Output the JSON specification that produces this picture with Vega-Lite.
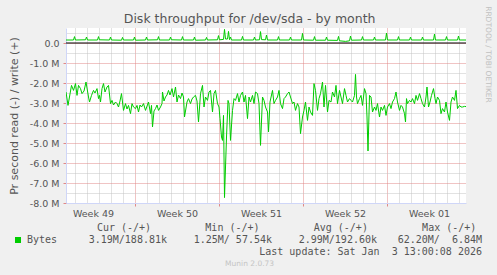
{
  "$schema": "https://vega.github.io/schema/vega-lite/v6.json",
  "background": "#f0f0f0",
  "padding": {"left": 8, "top": 5, "right": 6, "bottom": 7},
  "title": {"text": "Munin 2.0.73", "orient": "bottom", "anchor": "middle", "frame": "bounds", "font": "DejaVu Sans", "fontSize": 7.5, "fontWeight": "normal", "color": "#c4c4c4", "offset": 3},
  "config": {"font": "DejaVu Sans", "view": {"stroke": null}},
  "bounds": "flush",
  "spacing": 19.4,
  "datasets": {
    "read": [
      {"t": "2025-12-02T06:00Z", "v": -2.45}, {"t": "2025-12-02T10:00Z", "v": -3.12}, {"t": "2025-12-02T17:00Z", "v": -2.12}, {"t": "2025-12-02T21:00Z", "v": -2.37},
      {"t": "2025-12-03T01:00Z", "v": -2.03}, {"t": "2025-12-03T04:00Z", "v": -2.62}, {"t": "2025-12-03T07:00Z", "v": -2.12}, {"t": "2025-12-03T11:00Z", "v": -2.28}, {"t": "2025-12-03T14:00Z", "v": -2.53}, {"t": "2025-12-03T18:00Z", "v": -2.4}, {"t": "2025-12-03T22:00Z", "v": -1.95},
      {"t": "2025-12-04T03:00Z", "v": -2.7}, {"t": "2025-12-04T05:00Z", "v": -2.95}, {"t": "2025-12-04T09:00Z", "v": -2.62}, {"t": "2025-12-04T13:00Z", "v": -2.37}, {"t": "2025-12-04T16:00Z", "v": -2.5}, {"t": "2025-12-04T20:00Z", "v": -2.28}, {"t": "2025-12-04T23:00Z", "v": -2.78},
      {"t": "2025-12-05T01:00Z", "v": -2.62}, {"t": "2025-12-05T03:00Z", "v": -2.95}, {"t": "2025-12-05T06:00Z", "v": -2.28}, {"t": "2025-12-05T09:00Z", "v": -2.03}, {"t": "2025-12-05T12:00Z", "v": -2.45}, {"t": "2025-12-05T16:00Z", "v": -2.2}, {"t": "2025-12-05T19:00Z", "v": -2.12}, {"t": "2025-12-05T23:00Z", "v": -3.03},
      {"t": "2025-12-06T02:00Z", "v": -2.87}, {"t": "2025-12-06T05:00Z", "v": -3.1}, {"t": "2025-12-06T09:00Z", "v": -2.95}, {"t": "2025-12-06T12:00Z", "v": -3.03}, {"t": "2025-12-06T15:00Z", "v": -3.2}, {"t": "2025-12-06T18:00Z", "v": -2.9}, {"t": "2025-12-06T21:00Z", "v": -2.53},
      {"t": "2025-12-07T01:00Z", "v": -3.37}, {"t": "2025-12-07T05:00Z", "v": -3.03}, {"t": "2025-12-07T08:00Z", "v": -3.3}, {"t": "2025-12-07T11:00Z", "v": -3.12}, {"t": "2025-12-07T15:00Z", "v": -3.53}, {"t": "2025-12-07T18:00Z", "v": -3.03}, {"t": "2025-12-07T21:00Z", "v": -3.2},
      {"t": "2025-12-08T01:00Z", "v": -3.28}, {"t": "2025-12-08T04:00Z", "v": -3.12}, {"t": "2025-12-08T07:00Z", "v": -3.45}, {"t": "2025-12-08T10:00Z", "v": -3.1}, {"t": "2025-12-08T13:00Z", "v": -3.2}, {"t": "2025-12-08T17:00Z", "v": -3.03}, {"t": "2025-12-08T21:00Z", "v": -3.37},
      {"t": "2025-12-09T03:00Z", "v": -2.95}, {"t": "2025-12-09T07:00Z", "v": -3.53}, {"t": "2025-12-09T09:00Z", "v": -3.12}, {"t": "2025-12-09T11:00Z", "v": -4.2}, {"t": "2025-12-09T14:00Z", "v": -3.4}, {"t": "2025-12-09T17:00Z", "v": -3.28}, {"t": "2025-12-09T20:00Z", "v": -3.1}, {"t": "2025-12-09T23:00Z", "v": -3.37},
      {"t": "2025-12-10T03:00Z", "v": -3.2}, {"t": "2025-12-10T06:00Z", "v": -3.03}, {"t": "2025-12-10T07:00Z", "v": -2.45}, {"t": "2025-12-10T10:00Z", "v": -2.9}, {"t": "2025-12-10T13:00Z", "v": -2.7}, {"t": "2025-12-10T16:00Z", "v": -2.6}, {"t": "2025-12-10T19:00Z", "v": -2.37}, {"t": "2025-12-10T22:00Z", "v": -2.6},
      {"t": "2025-12-11T02:00Z", "v": -2.28}, {"t": "2025-12-11T05:00Z", "v": -2.7}, {"t": "2025-12-11T09:00Z", "v": -2.2}, {"t": "2025-12-11T12:00Z", "v": -2.95}, {"t": "2025-12-11T15:00Z", "v": -2.6}, {"t": "2025-12-11T19:00Z", "v": -2.78}, {"t": "2025-12-11T22:00Z", "v": -2.5},
      {"t": "2025-12-12T01:00Z", "v": -2.7}, {"t": "2025-12-12T03:00Z", "v": -3.7}, {"t": "2025-12-12T08:00Z", "v": -2.95}, {"t": "2025-12-12T11:00Z", "v": -2.78}, {"t": "2025-12-12T15:00Z", "v": -3.03}, {"t": "2025-12-12T18:00Z", "v": -2.8}, {"t": "2025-12-12T21:00Z", "v": -2.7},
      {"t": "2025-12-13T01:00Z", "v": -2.62}, {"t": "2025-12-13T04:00Z", "v": -2.9}, {"t": "2025-12-13T07:00Z", "v": -3.95}, {"t": "2025-12-13T11:00Z", "v": -2.53}, {"t": "2025-12-13T15:00Z", "v": -2.12}, {"t": "2025-12-13T18:00Z", "v": -3.2}, {"t": "2025-12-13T21:00Z", "v": -2.7},
      {"t": "2025-12-14T01:00Z", "v": -2.87}, {"t": "2025-12-14T04:00Z", "v": -2.45}, {"t": "2025-12-14T07:00Z", "v": -2.37}, {"t": "2025-12-14T11:00Z", "v": -3.45}, {"t": "2025-12-14T14:00Z", "v": -2.53}, {"t": "2025-12-14T17:00Z", "v": -2.37}, {"t": "2025-12-14T21:00Z", "v": -3.03},
      {"t": "2025-12-15T00:00Z", "v": -3.2}, {"t": "2025-12-15T02:00Z", "v": -3.78}, {"t": "2025-12-15T05:00Z", "v": -4.7}, {"t": "2025-12-15T07:00Z", "v": -4.87}, {"t": "2025-12-15T09:00Z", "v": -3.62}, {"t": "2025-12-15T11:00Z", "v": -7.73}, {"t": "2025-12-15T15:00Z", "v": -4.7}, {"t": "2025-12-15T18:00Z", "v": -2.87}, {"t": "2025-12-15T20:00Z", "v": -3.03}, {"t": "2025-12-15T23:00Z", "v": -4.87},
      {"t": "2025-12-16T03:00Z", "v": -3.37}, {"t": "2025-12-16T06:00Z", "v": -2.78}, {"t": "2025-12-16T09:00Z", "v": -2.87}, {"t": "2025-12-16T13:00Z", "v": -2.53}, {"t": "2025-12-16T16:00Z", "v": -2.95}, {"t": "2025-12-16T19:00Z", "v": -2.62}, {"t": "2025-12-16T23:00Z", "v": -2.45},
      {"t": "2025-12-17T02:00Z", "v": -2.95}, {"t": "2025-12-17T05:00Z", "v": -2.62}, {"t": "2025-12-17T09:00Z", "v": -3.78}, {"t": "2025-12-17T12:00Z", "v": -2.7}, {"t": "2025-12-17T15:00Z", "v": -2.95}, {"t": "2025-12-17T19:00Z", "v": -2.62}, {"t": "2025-12-17T22:00Z", "v": -3.03},
      {"t": "2025-12-18T01:00Z", "v": -2.45}, {"t": "2025-12-18T05:00Z", "v": -2.53}, {"t": "2025-12-18T08:00Z", "v": -3.03}, {"t": "2025-12-18T11:00Z", "v": -5.12}, {"t": "2025-12-18T15:00Z", "v": -2.7}, {"t": "2025-12-18T18:00Z", "v": -2.87}, {"t": "2025-12-18T21:00Z", "v": -3.2},
      {"t": "2025-12-19T01:00Z", "v": -3.45}, {"t": "2025-12-19T03:00Z", "v": -4.45}, {"t": "2025-12-19T06:00Z", "v": -2.95}, {"t": "2025-12-19T11:00Z", "v": -2.37}, {"t": "2025-12-19T14:00Z", "v": -3.03}, {"t": "2025-12-19T17:00Z", "v": -2.87}, {"t": "2025-12-19T21:00Z", "v": -2.7},
      {"t": "2025-12-20T00:00Z", "v": -2.37}, {"t": "2025-12-20T03:00Z", "v": -3.03}, {"t": "2025-12-20T07:00Z", "v": -3.28}, {"t": "2025-12-20T10:00Z", "v": -2.78}, {"t": "2025-12-20T13:00Z", "v": -2.7}, {"t": "2025-12-20T17:00Z", "v": -2.53}, {"t": "2025-12-20T20:00Z", "v": -2.45}, {"t": "2025-12-20T23:00Z", "v": -2.7},
      {"t": "2025-12-21T03:00Z", "v": -3.03}, {"t": "2025-12-21T06:00Z", "v": -2.95}, {"t": "2025-12-21T09:00Z", "v": -3.37}, {"t": "2025-12-21T13:00Z", "v": -3.03}, {"t": "2025-12-21T16:00Z", "v": -3.2}, {"t": "2025-12-21T19:00Z", "v": -4.53}, {"t": "2025-12-21T23:00Z", "v": -3.7},
      {"t": "2025-12-22T02:00Z", "v": -3.37}, {"t": "2025-12-22T05:00Z", "v": -2.95}, {"t": "2025-12-22T09:00Z", "v": -3.87}, {"t": "2025-12-22T12:00Z", "v": -3.2}, {"t": "2025-12-22T15:00Z", "v": -3.45}, {"t": "2025-12-22T19:00Z", "v": -3.62}, {"t": "2025-12-22T22:00Z", "v": -2.03},
      {"t": "2025-12-23T01:00Z", "v": -2.37}, {"t": "2025-12-23T05:00Z", "v": -3.37}, {"t": "2025-12-23T08:00Z", "v": -2.78}, {"t": "2025-12-23T11:00Z", "v": -2.53}, {"t": "2025-12-23T15:00Z", "v": -1.95}, {"t": "2025-12-23T18:00Z", "v": -3.2}, {"t": "2025-12-23T21:00Z", "v": -2.12},
      {"t": "2025-12-24T01:00Z", "v": -3.45}, {"t": "2025-12-24T04:00Z", "v": -2.87}, {"t": "2025-12-24T08:00Z", "v": -2.95}, {"t": "2025-12-24T11:00Z", "v": -2.45}, {"t": "2025-12-24T15:00Z", "v": -2.7}, {"t": "2025-12-24T18:00Z", "v": -2.12}, {"t": "2025-12-24T21:00Z", "v": -3.03},
      {"t": "2025-12-25T01:00Z", "v": -2.37}, {"t": "2025-12-25T04:00Z", "v": -2.7}, {"t": "2025-12-25T07:00Z", "v": -3.03}, {"t": "2025-12-25T11:00Z", "v": -2.28}, {"t": "2025-12-25T14:00Z", "v": -2.62}, {"t": "2025-12-25T17:00Z", "v": -2.95}, {"t": "2025-12-25T21:00Z", "v": -2.78},
      {"t": "2025-12-26T00:00Z", "v": -2.87}, {"t": "2025-12-26T03:00Z", "v": -2.95}, {"t": "2025-12-26T07:00Z", "v": -2.62}, {"t": "2025-12-26T09:00Z", "v": -1.57}, {"t": "2025-12-26T11:00Z", "v": -2.7}, {"t": "2025-12-26T13:00Z", "v": -3.03}, {"t": "2025-12-26T17:00Z", "v": -2.78}, {"t": "2025-12-26T20:00Z", "v": -2.62}, {"t": "2025-12-26T23:00Z", "v": -3.12},
      {"t": "2025-12-27T03:00Z", "v": -2.28}, {"t": "2025-12-27T06:00Z", "v": -2.53}, {"t": "2025-12-27T08:00Z", "v": -3.7}, {"t": "2025-12-27T10:00Z", "v": -5.4}, {"t": "2025-12-27T13:00Z", "v": -2.62}, {"t": "2025-12-27T16:00Z", "v": -2.7}, {"t": "2025-12-27T19:00Z", "v": -3.45}, {"t": "2025-12-27T23:00Z", "v": -3.2},
      {"t": "2025-12-28T02:00Z", "v": -3.37}, {"t": "2025-12-28T05:00Z", "v": -3.03}, {"t": "2025-12-28T09:00Z", "v": -3.7}, {"t": "2025-12-28T12:00Z", "v": -3.2}, {"t": "2025-12-28T15:00Z", "v": -3.37}, {"t": "2025-12-28T19:00Z", "v": -3.12}, {"t": "2025-12-28T22:00Z", "v": -3.62},
      {"t": "2025-12-29T01:00Z", "v": -3.2}, {"t": "2025-12-29T05:00Z", "v": -3.03}, {"t": "2025-12-29T08:00Z", "v": -3.28}, {"t": "2025-12-29T11:00Z", "v": -2.95}, {"t": "2025-12-29T15:00Z", "v": -2.78}, {"t": "2025-12-29T18:00Z", "v": -2.45}, {"t": "2025-12-29T21:00Z", "v": -2.95},
      {"t": "2025-12-30T01:00Z", "v": -3.37}, {"t": "2025-12-30T04:00Z", "v": -3.12}, {"t": "2025-12-30T07:00Z", "v": -3.2}, {"t": "2025-12-30T11:00Z", "v": -3.53}, {"t": "2025-12-30T13:00Z", "v": -3.95}, {"t": "2025-12-30T15:00Z", "v": -2.78}, {"t": "2025-12-30T17:00Z", "v": -3.03}, {"t": "2025-12-30T21:00Z", "v": -2.87},
      {"t": "2025-12-31T00:00Z", "v": -2.95}, {"t": "2025-12-31T03:00Z", "v": -2.78}, {"t": "2025-12-31T07:00Z", "v": -3.03}, {"t": "2025-12-31T10:00Z", "v": -2.62}, {"t": "2025-12-31T13:00Z", "v": -2.87}, {"t": "2025-12-31T17:00Z", "v": -2.53}, {"t": "2025-12-31T20:00Z", "v": -2.78}, {"t": "2025-12-31T23:00Z", "v": -3.03},
      {"t": "2026-01-01T03:00Z", "v": -3.2}, {"t": "2026-01-01T06:00Z", "v": -2.7}, {"t": "2026-01-01T08:00Z", "v": -2.2}, {"t": "2026-01-01T11:00Z", "v": -3.2}, {"t": "2026-01-01T14:00Z", "v": -2.95}, {"t": "2026-01-01T17:00Z", "v": -2.62}, {"t": "2026-01-01T21:00Z", "v": -2.28},
      {"t": "2026-01-02T00:00Z", "v": -2.78}, {"t": "2026-01-02T02:00Z", "v": -3.03}, {"t": "2026-01-02T05:00Z", "v": -2.7}, {"t": "2026-01-02T09:00Z", "v": -2.87}, {"t": "2026-01-02T12:00Z", "v": -3.53}, {"t": "2026-01-02T15:00Z", "v": -3.28}, {"t": "2026-01-02T19:00Z", "v": -3.45}, {"t": "2026-01-02T22:00Z", "v": -2.95},
      {"t": "2026-01-03T01:00Z", "v": -3.45}, {"t": "2026-01-03T05:00Z", "v": -3.87}, {"t": "2026-01-03T08:00Z", "v": -2.95}, {"t": "2026-01-03T11:00Z", "v": -2.7}, {"t": "2026-01-03T15:00Z", "v": -2.87}, {"t": "2026-01-03T18:00Z", "v": -2.37}, {"t": "2026-01-03T21:00Z", "v": -3.28},
      {"t": "2026-01-04T01:00Z", "v": -3.12}, {"t": "2026-01-04T04:00Z", "v": -3.2}, {"t": "2026-01-04T07:00Z", "v": -3.2}, {"t": "2026-01-04T11:00Z", "v": -3.17}, {"t": "2026-01-04T14:00Z", "v": -3.18}
    ],
    "write": [
      {"t": "2025-12-02T06:00Z", "v": 0.15}, {"t": "2025-12-02T21:00Z", "v": 0.15}, {"t": "2025-12-02T23:00Z", "v": 0.32},
      {"t": "2025-12-03T01:00Z", "v": 0.15}, {"t": "2025-12-03T21:00Z", "v": 0.16}, {"t": "2025-12-03T23:00Z", "v": 0.3},
      {"t": "2025-12-04T01:00Z", "v": 0.15}, {"t": "2025-12-04T21:00Z", "v": 0.15}, {"t": "2025-12-04T23:00Z", "v": 0.32},
      {"t": "2025-12-05T01:00Z", "v": 0.16}, {"t": "2025-12-05T21:00Z", "v": 0.15}, {"t": "2025-12-05T23:00Z", "v": 0.3},
      {"t": "2025-12-06T01:00Z", "v": 0.15}, {"t": "2025-12-06T21:00Z", "v": 0.14}, {"t": "2025-12-06T23:00Z", "v": 0.28},
      {"t": "2025-12-07T01:00Z", "v": 0.15}, {"t": "2025-12-07T21:00Z", "v": 0.15}, {"t": "2025-12-07T23:00Z", "v": 0.3},
      {"t": "2025-12-08T01:00Z", "v": 0.14}, {"t": "2025-12-08T21:00Z", "v": 0.15}, {"t": "2025-12-08T23:00Z", "v": 0.3},
      {"t": "2025-12-09T01:00Z", "v": 0.15}, {"t": "2025-12-09T21:00Z", "v": 0.16}, {"t": "2025-12-09T23:00Z", "v": 0.32},
      {"t": "2025-12-10T01:00Z", "v": 0.15}, {"t": "2025-12-10T21:00Z", "v": 0.15}, {"t": "2025-12-10T23:00Z", "v": 0.3},
      {"t": "2025-12-11T01:00Z", "v": 0.16}, {"t": "2025-12-11T21:00Z", "v": 0.15}, {"t": "2025-12-11T23:00Z", "v": 0.32},
      {"t": "2025-12-12T01:00Z", "v": 0.15}, {"t": "2025-12-12T21:00Z", "v": 0.15}, {"t": "2025-12-12T23:00Z", "v": 0.3},
      {"t": "2025-12-13T01:00Z", "v": 0.14}, {"t": "2025-12-13T21:00Z", "v": 0.15}, {"t": "2025-12-13T23:00Z", "v": 0.28},
      {"t": "2025-12-14T01:00Z", "v": 0.15}, {"t": "2025-12-14T21:00Z", "v": 0.16}, {"t": "2025-12-14T23:00Z", "v": 0.37},
      {"t": "2025-12-15T01:00Z", "v": 0.16}, {"t": "2025-12-15T09:00Z", "v": 0.18}, {"t": "2025-12-15T11:00Z", "v": 0.68}, {"t": "2025-12-15T13:00Z", "v": 0.2}, {"t": "2025-12-15T17:00Z", "v": 0.2}, {"t": "2025-12-15T19:00Z", "v": 0.58}, {"t": "2025-12-15T21:00Z", "v": 0.17}, {"t": "2025-12-15T23:00Z", "v": 0.3},
      {"t": "2025-12-16T01:00Z", "v": 0.15}, {"t": "2025-12-16T21:00Z", "v": 0.15}, {"t": "2025-12-16T23:00Z", "v": 0.33},
      {"t": "2025-12-17T01:00Z", "v": 0.15}, {"t": "2025-12-17T21:00Z", "v": 0.15}, {"t": "2025-12-17T23:00Z", "v": 0.3},
      {"t": "2025-12-18T01:00Z", "v": 0.15}, {"t": "2025-12-18T09:00Z", "v": 0.16}, {"t": "2025-12-18T11:00Z", "v": 0.57}, {"t": "2025-12-18T13:00Z", "v": 0.17}, {"t": "2025-12-18T21:00Z", "v": 0.16}, {"t": "2025-12-18T23:00Z", "v": 0.4},
      {"t": "2025-12-19T01:00Z", "v": 0.15}, {"t": "2025-12-19T21:00Z", "v": 0.15}, {"t": "2025-12-19T23:00Z", "v": 0.32},
      {"t": "2025-12-20T01:00Z", "v": 0.15}, {"t": "2025-12-20T21:00Z", "v": 0.15}, {"t": "2025-12-20T23:00Z", "v": 0.3},
      {"t": "2025-12-21T01:00Z", "v": 0.15}, {"t": "2025-12-21T21:00Z", "v": 0.15}, {"t": "2025-12-21T23:00Z", "v": 0.48},
      {"t": "2025-12-22T01:00Z", "v": 0.15}, {"t": "2025-12-22T21:00Z", "v": 0.14}, {"t": "2025-12-22T23:00Z", "v": 0.32},
      {"t": "2025-12-23T01:00Z", "v": 0.14}, {"t": "2025-12-23T21:00Z", "v": 0.14}, {"t": "2025-12-23T23:00Z", "v": 0.3},
      {"t": "2025-12-24T01:00Z", "v": 0.14}, {"t": "2025-12-24T21:00Z", "v": 0.13}, {"t": "2025-12-24T23:00Z", "v": 0.33},
      {"t": "2025-12-25T01:00Z", "v": 0.11}, {"t": "2025-12-25T13:00Z", "v": 0.08}, {"t": "2025-12-25T21:00Z", "v": 0.11}, {"t": "2025-12-25T23:00Z", "v": 0.35},
      {"t": "2025-12-26T01:00Z", "v": 0.14}, {"t": "2025-12-26T21:00Z", "v": 0.15}, {"t": "2025-12-26T23:00Z", "v": 0.32},
      {"t": "2025-12-27T01:00Z", "v": 0.15}, {"t": "2025-12-27T21:00Z", "v": 0.15}, {"t": "2025-12-27T23:00Z", "v": 0.3},
      {"t": "2025-12-28T01:00Z", "v": 0.15}, {"t": "2025-12-28T21:00Z", "v": 0.15}, {"t": "2025-12-28T23:00Z", "v": 0.5},
      {"t": "2025-12-29T01:00Z", "v": 0.15}, {"t": "2025-12-29T21:00Z", "v": 0.15}, {"t": "2025-12-29T23:00Z", "v": 0.32},
      {"t": "2025-12-30T01:00Z", "v": 0.15}, {"t": "2025-12-30T21:00Z", "v": 0.15}, {"t": "2025-12-30T23:00Z", "v": 0.3},
      {"t": "2025-12-31T01:00Z", "v": 0.15}, {"t": "2025-12-31T21:00Z", "v": 0.15}, {"t": "2025-12-31T23:00Z", "v": 0.3},
      {"t": "2026-01-01T01:00Z", "v": 0.15}, {"t": "2026-01-01T21:00Z", "v": 0.15}, {"t": "2026-01-01T23:00Z", "v": 0.45},
      {"t": "2026-01-02T01:00Z", "v": 0.15}, {"t": "2026-01-02T21:00Z", "v": 0.15}, {"t": "2026-01-02T23:00Z", "v": 0.32},
      {"t": "2026-01-03T01:00Z", "v": 0.15}, {"t": "2026-01-03T21:00Z", "v": 0.15}, {"t": "2026-01-03T23:00Z", "v": 0.35},
      {"t": "2026-01-04T01:00Z", "v": 0.15}, {"t": "2026-01-04T14:00Z", "v": 0.15}
    ],
    "zero": [{"ref": 0}],
    "table": [
      {"col": "Cur", "line": "head", "text": "Cur (-/+)"},
      {"col": "Min", "line": "head", "text": "Min (-/+)"},
      {"col": "Avg", "line": "head", "text": "Avg (-/+)"},
      {"col": "Max", "line": "head", "text": "Max (-/+)"},
      {"col": "Cur", "line": "val", "text": "3.19M/188.81k"},
      {"col": "Min", "line": "val", "text": "1.25M/\u00a057.54k"},
      {"col": "Avg", "line": "val", "text": "2.99M/192.60k"},
      {"col": "Max", "line": "val", "text": "62.20M/\u00a0\u00a06.84M"}
    ]
  },
  "vconcat": [
    {
      "width": 400,
      "height": 175,
      "view": {"fill": "#ffffff", "stroke": null},
      "title": {"text": "Disk throughput for /dev/sda - by month", "frame": "bounds", "anchor": "middle", "fontSize": 12.5, "fontWeight": "normal", "color": "#555555", "offset": -20},
      "layer": [
        {
          "data": {"name": "read"},
          "mark": {"type": "line", "strokeWidth": 1, "clip": true},
          "encoding": {
            "x": {
              "field": "t", "type": "temporal",
              "scale": {"type": "utc", "nice": false, "domain": [{"year": 2025, "month": 12, "date": 2, "hours": 6, "utc": true}, {"year": 2026, "month": 1, "date": 4, "hours": 14, "utc": true}]},
              "axis": {
                "orient": "bottom", "title": null, "labels": false,
                "values": [
                  {"year": 2025, "month": 12, "date": 3, "utc": true}, {"year": 2025, "month": 12, "date": 4, "utc": true}, {"year": 2025, "month": 12, "date": 5, "utc": true}, {"year": 2025, "month": 12, "date": 6, "utc": true}, {"year": 2025, "month": 12, "date": 7, "utc": true}, {"year": 2025, "month": 12, "date": 8, "utc": true}, {"year": 2025, "month": 12, "date": 9, "utc": true}, {"year": 2025, "month": 12, "date": 10, "utc": true}, {"year": 2025, "month": 12, "date": 11, "utc": true}, {"year": 2025, "month": 12, "date": 12, "utc": true}, {"year": 2025, "month": 12, "date": 13, "utc": true}, {"year": 2025, "month": 12, "date": 14, "utc": true}, {"year": 2025, "month": 12, "date": 15, "utc": true}, {"year": 2025, "month": 12, "date": 16, "utc": true}, {"year": 2025, "month": 12, "date": 17, "utc": true}, {"year": 2025, "month": 12, "date": 18, "utc": true}, {"year": 2025, "month": 12, "date": 19, "utc": true}, {"year": 2025, "month": 12, "date": 20, "utc": true}, {"year": 2025, "month": 12, "date": 21, "utc": true}, {"year": 2025, "month": 12, "date": 22, "utc": true}, {"year": 2025, "month": 12, "date": 23, "utc": true}, {"year": 2025, "month": 12, "date": 24, "utc": true}, {"year": 2025, "month": 12, "date": 25, "utc": true}, {"year": 2025, "month": 12, "date": 26, "utc": true}, {"year": 2025, "month": 12, "date": 27, "utc": true}, {"year": 2025, "month": 12, "date": 28, "utc": true}, {"year": 2025, "month": 12, "date": 29, "utc": true}, {"year": 2025, "month": 12, "date": 30, "utc": true}, {"year": 2025, "month": 12, "date": 31, "utc": true}, {"year": 2026, "month": 1, "date": 1, "utc": true}, {"year": 2026, "month": 1, "date": 2, "utc": true}, {"year": 2026, "month": 1, "date": 3, "utc": true}, {"year": 2026, "month": 1, "date": 4, "utc": true}
                ],
                "grid": true, "gridDash": [1, 1], "gridWidth": 1,
                "gridColor": {"condition": {"test": "utcday(datum.value) === 1", "value": "#e08888"}, "value": "#c4c4c4"},
                "ticks": true, "tickSize": 3,
                "tickColor": {"condition": {"test": "utcday(datum.value) === 1", "value": "#e08888"}, "value": "transparent"},
                "domain": true, "domainColor": "#cfd6f8", "domainWidth": 1
              }
            },
            "y": {
              "field": "v", "type": "quantitative",
              "scale": {"domain": [-8, 0.75], "nice": false, "zero": false},
              "axis": {
                "values": [-8, -7.5, -7, -6.5, -6, -5.5, -5, -4.5, -4, -3.5, -3, -2.5, -2, -1.5, -1, -0.5, 0, 0.5],
                "labelExpr": "datum.value % 1 !== 0 ? '' : (datum.value === 0 ? '0.0\u00a0\u00a0' : '-' + format(-datum.value, '.1f') + ' M')",
                "title": "Pr second read (-) / write (+)", "titleFontSize": 11, "titleFontWeight": "normal", "titleColor": "#555555", "titlePadding": 10,
                "grid": true, "gridDash": [1, 1], "gridWidth": 1,
                "gridColor": {"condition": {"test": "datum.value % 1 === 0", "value": "#e08888"}, "value": "#c4c4c4"},
                "tickSize": 3,
                "tickColor": {"condition": {"test": "datum.value % 1 === 0", "value": "#e08888"}, "value": "transparent"},
                "labelPadding": 4, "labelFontSize": 9.5, "labelColor": "#555555", "labelFont": "DejaVu Sans",
                "labelOverlap": false, "labelFlush": false,
                "domain": true, "domainColor": "#cfd6f8", "domainWidth": 1
              }
            },
            "color": {
              "datum": "Bytes",
              "scale": {"range": ["#00cc00"]},
              "legend": {
                "title": null, "orient": "none", "legendX": -53, "legendY": 207, "padding": 0,
                "symbolType": "square", "symbolSize": 36, "symbolStrokeWidth": 0, "symbolFillColor": "#00cc00",
                "labelFont": "DejaVu Sans Mono", "labelFontSize": 10, "labelColor": "#555555", "labelOffset": 4,
                "encode": {"symbols": {"update": {"fill": {"value": "#00cc00"}, "stroke": {"value": "#00cc00"}, "strokeWidth": {"value": 0}}}}
              }
            }
          }
        },
        {
          "data": {"name": "write"},
          "mark": {"type": "line", "strokeWidth": 1, "clip": true},
          "encoding": {
            "x": {
              "field": "t", "type": "temporal",
              "scale": {"type": "utc", "nice": false, "domain": [{"year": 2025, "month": 12, "date": 2, "hours": 6, "utc": true}, {"year": 2026, "month": 1, "date": 4, "hours": 14, "utc": true}]},
              "axis": {
                "orient": "bottom", "title": null,
                "values": [{"year": 2025, "month": 12, "date": 4, "hours": 12, "utc": true}, {"year": 2025, "month": 12, "date": 11, "hours": 12, "utc": true}, {"year": 2025, "month": 12, "date": 18, "hours": 12, "utc": true}, {"year": 2025, "month": 12, "date": 25, "hours": 12, "utc": true}, {"year": 2026, "month": 1, "date": 1, "hours": 12, "utc": true}],
                "labelExpr": "'Week ' + utcFormat(datum.value, '%V')",
                "grid": false, "ticks": false, "tickSize": 0, "domain": false,
                "labelFontSize": 9.5, "labelColor": "#555555", "labelFont": "DejaVu Sans", "labelPadding": 5,
                "labelFlush": false, "labelOverlap": false
              }
            },
            "y": {"field": "v", "type": "quantitative", "scale": {"domain": [-8, 0.75], "nice": false, "zero": false}, "axis": null},
            "color": {"datum": "Bytes"}
          }
        },
        {
          "data": {"name": "zero"},
          "mark": {"type": "rule", "color": "#000000", "strokeWidth": 1.2},
          "encoding": {
            "y": {
              "field": "ref", "type": "quantitative",
              "scale": {"domain": [-8, 0.75], "nice": false, "zero": false},
              "axis": {
                "orient": "right", "title": "RRDTOOL / TOBI OETIKER", "labels": false, "ticks": false, "domain": false, "grid": false,
                "titleFontSize": 7.5, "titleFontWeight": "normal", "titleColor": "#c0c0c0", "titleAngle": 90,
                "titleAlign": "left", "titleBaseline": "bottom", "titleX": 17, "titleY": -22.3
              }
            }
          }
        }
      ],
      "resolve": {"axis": {"x": "independent", "y": "independent"}}
    },
    {
      "width": 416,
      "height": 24,
      "data": {"name": "table"},
      "title": {"text": "Last update: Sat Jan\u00a0\u00a03 13:00:08 2026", "orient": "bottom", "anchor": "end", "frame": "group", "font": "DejaVu Sans Mono", "fontSize": 10, "fontWeight": "normal", "color": "#555555", "offset": 1},
      "layer": [
        {
          "transform": [{"filter": "datum.line === 'head'"}],
          "mark": {"type": "text", "align": "center", "baseline": "middle", "font": "DejaVu Sans Mono", "fontSize": 10, "color": "#555555"},
          "encoding": {
            "x": {"field": "col", "type": "nominal", "scale": {"type": "point", "domain": ["Cur", "Min", "Avg", "Max"], "padding": 0.419, "align": 0.639}, "axis": null},
            "y": {"field": "line", "type": "nominal", "scale": {"type": "point", "domain": ["head", "val"], "padding": 0.5}, "axis": null},
            "text": {"field": "text"}
          }
        },
        {
          "transform": [{"filter": "datum.line === 'val'"}],
          "mark": {"type": "text", "align": "right", "baseline": "middle", "font": "DejaVu Sans Mono", "fontSize": 10, "color": "#555555"},
          "encoding": {
            "x": {"field": "col", "type": "nominal", "scale": {"type": "point", "domain": ["Cur", "Min", "Avg", "Max"], "padding": 0.481, "align": 1}, "axis": null},
            "y": {"field": "line", "type": "nominal", "scale": {"type": "point", "domain": ["head", "val"], "padding": 0.5}, "axis": null},
            "text": {"field": "text"}
          }
        }
      ],
      "resolve": {"scale": {"x": "independent"}}
    }
  ]
}
